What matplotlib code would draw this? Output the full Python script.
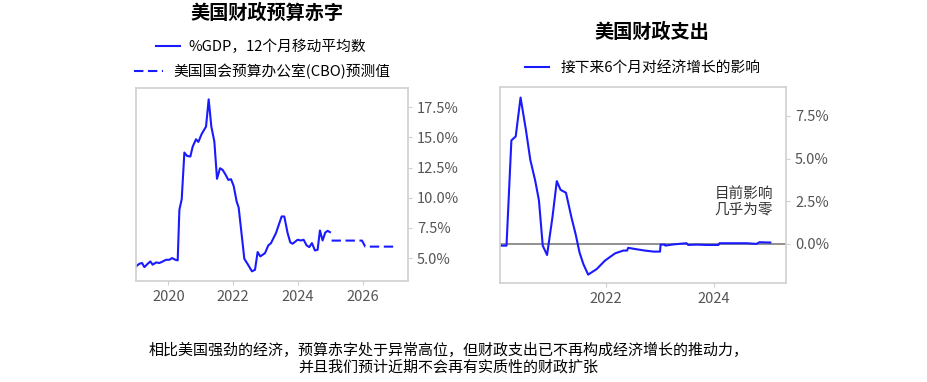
import matplotlib
matplotlib.use("Agg")
import matplotlib.pyplot as plt
from matplotlib.lines import Line2D
from matplotlib.ticker import FuncFormatter

plt.rcParams['font.family'] = ['Noto Sans CJK SC', 'DejaVu Sans']

# --- data: US budget deficit, % of GDP (12m moving average) ---
deficit_dates = [2019.0, 2019.105, 2019.187, 2019.259, 2019.362, 2019.444, 2019.516, 2019.619,
                 2019.722, 2019.825, 2019.928, 2020.031, 2020.113, 2020.216, 2020.288, 2020.34,
                 2020.412, 2020.494, 2020.576, 2020.679, 2020.751, 2020.854, 2020.926, 2021.029,
                 2021.163, 2021.245, 2021.327, 2021.42, 2021.502, 2021.595, 2021.677, 2021.759,
                 2021.852, 2021.934, 2022.016, 2022.109, 2022.171, 2022.346, 2022.449, 2022.582,
                 2022.675, 2022.757, 2022.84, 2022.984, 2023.086, 2023.169, 2023.323, 2023.498,
                 2023.58, 2023.683, 2023.765, 2023.837, 2023.992, 2024.095, 2024.177, 2024.27,
                 2024.352, 2024.434, 2024.527, 2024.609, 2024.681, 2024.763, 2024.846, 2024.918,
                 2024.99]
deficit_vals = [4.31, 4.53, 4.59, 4.25, 4.53, 4.72, 4.45, 4.64,
                4.59, 4.72, 4.86, 4.86, 5.0, 4.86, 4.81, 9.0,
                9.88, 13.75, 13.47, 13.42, 14.24, 14.85, 14.63, 15.29,
                15.9, 18.16, 15.9, 14.66, 11.57, 12.45, 12.31, 11.95,
                11.48, 11.54, 10.99, 9.69, 9.19, 4.94, 4.5, 3.9,
                4.03, 5.5, 5.14, 5.41, 6.05, 6.24, 7.07, 8.45,
                8.45, 7.07, 6.3, 6.19, 6.52, 6.46, 6.52, 6.05,
                5.91, 6.24, 5.63, 5.69, 7.29, 6.46, 7.12, 7.26,
                7.15]

# CBO projection
cbo_dates = [2025.04, 2025.98, 2026.08, 2027.03]
cbo_vals = [6.45, 6.45, 5.95, 5.95]

# --- data: fiscal impulse on growth over next 6 months ---
impulse_dates = [2020.06, 2020.16, 2020.25, 2020.33, 2020.42, 2020.52, 2020.60, 2020.69,
                 2020.76, 2020.83, 2020.91, 2021.01, 2021.09, 2021.16, 2021.26, 2021.36,
                 2021.44, 2021.51, 2021.58, 2021.67, 2021.83, 2021.98, 2022.17, 2022.32,
                 2022.39, 2022.41, 2022.56, 2022.72, 2022.88, 2023.0, 2023.01, 2023.09,
                 2023.10, 2023.22, 2023.34, 2023.49, 2023.52, 2023.68, 2023.86, 2024.08,
                 2024.10, 2024.30, 2024.60, 2024.78, 2024.84, 2025.04]
impulse_vals = [-0.1, -0.1, 6.07, 6.3, 8.58, 6.66, 4.93, 3.72,
                2.55, -0.1, -0.65, 1.57, 3.68, 3.17, 3.0, 1.57,
                0.55, -0.49, -1.17, -1.8, -1.47, -0.98, -0.55, -0.39,
                -0.39, -0.23, -0.31, -0.39, -0.45, -0.45, -0.04, -0.04,
                -0.1, -0.04, 0.0, 0.04, -0.06, -0.04, -0.06, -0.06,
                0.04, 0.04, 0.04, 0.0, 0.1, 0.08]

blue = '#1a1aff'
spine_col = '#d0d0d0'
tick_col = '#555555'
dash = (0, (4.5, 2.2))

fig = plt.figure(figsize=(9.27, 3.82), dpi=100)
ax1 = fig.add_axes([0.1467, 0.2644, 0.2934, 0.5052])
ax2 = fig.add_axes([0.5394, 0.2592, 0.3085, 0.5131])

pct = FuncFormatter(lambda v, p: f"{v:.1f}%")


def style(ax):
    for s in ax.spines.values():
        s.set_color(spine_col)
        s.set_linewidth(1.2)
    ax.yaxis.tick_right()
    ax.tick_params(axis='both', colors=spine_col, labelcolor=tick_col, labelsize=10.5, length=3)
    ax.yaxis.set_major_formatter(pct)


# left: deficit
ax1.plot(deficit_dates, deficit_vals, color=blue, lw=1.5)
ax1.plot(cbo_dates, cbo_vals, color=blue, lw=1.5, ls=dash)
ax1.set_xlim(2019.0, 2027.4)
ax1.set_ylim(3.1, 19.1)
ax1.set_xticks([2020, 2022, 2024, 2026])
ax1.set_xticklabels(['2020', '2022', '2024', '2026'])
ax1.set_yticks([5, 7.5, 10, 12.5, 15, 17.5])
style(ax1)

# right: fiscal impulse
ax2.axhline(0, color='#888888', lw=1.3, zorder=1)
ax2.plot(impulse_dates, impulse_vals, color=blue, lw=1.5, zorder=2)
ax2.set_xlim(2020.04, 2025.33)
ax2.set_ylim(-2.29, 9.2)
ax2.set_xticks([2022, 2024])
ax2.set_xticklabels(['2022', '2024'])
ax2.set_yticks([0, 2.5, 5, 7.5])
style(ax2)
ax2.text(2024.55, 2.45, "目前影响\n几乎为零", ha='center', va='center', fontsize=10.5,
         color='#333333', linespacing=1.15)

# titles
fig.text(0.288, 0.966, "美国财政预算赤字", ha='center', va='center', fontsize=13.8, fontweight='bold')
fig.text(0.703, 0.916, "美国财政支出", ha='center', va='center', fontsize=13.8, fontweight='bold')

# legends, each entry centred on its own
leg_kw = dict(loc='center', frameon=False, fontsize=10.6, borderaxespad=0, borderpad=0)
fig.legend([Line2D([], [], color=blue, lw=1.5)], ["%GDP，12个月移动平均数"],
           bbox_to_anchor=(0.2816, 0.877), handlelength=1.6, handletextpad=0.55, **leg_kw)
fig.legend([Line2D([], [], color=blue, lw=1.5, ls=dash)], ["美国国会预算办公室(CBO)预测值"],
           bbox_to_anchor=(0.2826, 0.812), handlelength=2.0, handletextpad=0.65, **leg_kw)
fig.legend([Line2D([], [], color=blue, lw=1.5)], ["接下来6个月对经济增长的影响"],
           bbox_to_anchor=(0.693, 0.822), handlelength=1.65, handletextpad=0.75, **leg_kw)

# footnote
fig.text(0.484, 0.060,
         "相比美国强劲的经济，预算赤字处于异常高位，但财政支出已不再构成经济增长的推动力，\n"
         "并且我们预计近期不会再有实质性的财政扩张",
         ha='center', va='center', fontsize=10.8, multialignment='center', linespacing=1.2)

fig.savefig("out.png", dpi=100)
